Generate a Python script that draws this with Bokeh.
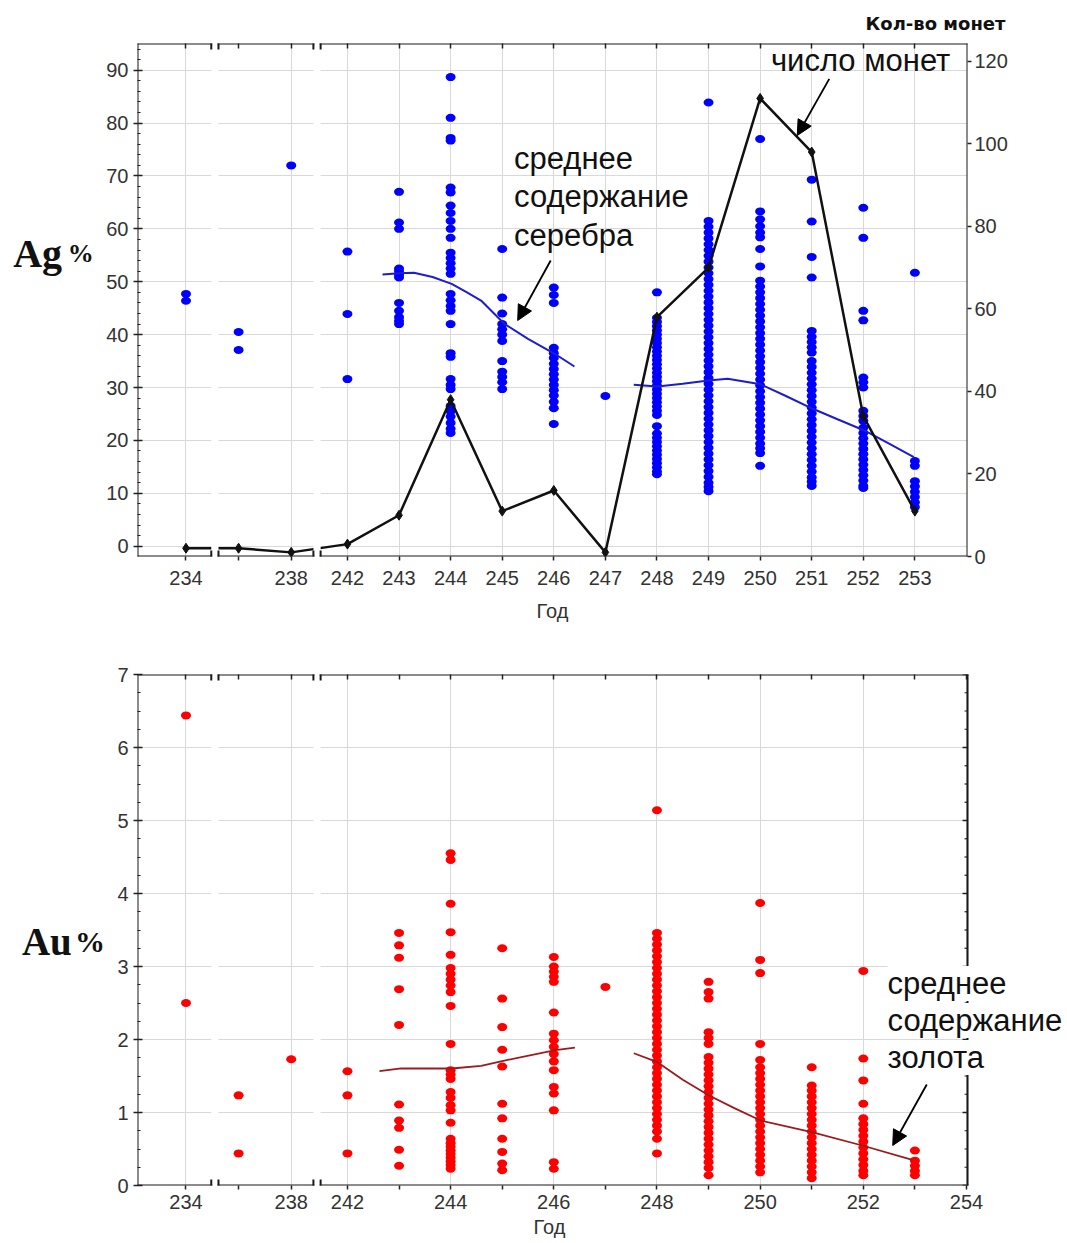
from bokeh.plotting import figure
from bokeh.models import Range1d, LinearAxis, FixedTicker, Label, Arrow, NormalHead, Title
from bokeh.embed import file_html
from bokeh.resources import INLINE

# ---------------- data ----------------
years = [234, 236, 238, 242, 243, 244, 245, 246, 247, 248, 249, 250, 251, 252, 253]

# Ag % per coin, by year
ag_234 = [47.7, 46.4]
ag_236 = [40.5, 37.1]
ag_238 = [72.0]
ag_242 = [55.7, 43.9, 31.6]
ag_243 = [67.0, 61.2, 60.0, 52.5, 52.0, 51.3, 50.8, 46.0, 44.5, 43.3, 42.6, 42.0]
ag_244 = [88.7, 81.0, 77.2, 76.7, 67.8, 66.9, 64.4, 63.0, 61.5, 60.0, 58.3, 55.5, 54.5,
          53.5, 52.5, 51.5, 47.7, 46.5, 45.4, 44.5, 42.0, 36.5, 35.8, 31.6, 30.5, 29.7,
          26.5, 25.5, 24.5, 23.3, 22.2, 21.4]
ag_245 = [56.2, 47.0, 44.0, 42.0, 41.0, 40.0, 38.8, 35.0, 33.0, 32.0, 31.0, 29.7]
ag_246 = [48.9, 47.5, 46.0, 37.5, 36.5, 35.6, 34.5, 33.5, 32.5, 31.5, 30.5, 29.5, 28.5,
          27.3, 26.1, 23.1]
ag_247 = [28.4]
ag_248 = [48.0, 43.2, 42.4, 41.6, 40.8, 40.0, 39.2, 38.4, 37.6, 36.8, 36.0, 35.2, 34.4,
          33.6, 32.8, 32.0, 31.2, 30.4, 29.6, 28.8, 28.0, 27.2, 26.4, 25.6, 24.8, 22.7,
          21.3, 20.5, 19.7, 18.9, 18.1, 17.3, 16.5, 15.7, 14.9, 14.1, 13.6]
ag_249 = [83.9, 61.5, 60.4, 59.3, 58.2, 57.1, 56.0, 54.9, 53.8, 52.7, 51.6, 50.5, 49.4,
          48.3, 47.2, 46.1, 45.0, 43.9, 42.8, 41.7, 40.6, 39.5, 38.4, 37.3, 36.2, 35.1,
          34.0, 32.9, 31.8, 30.7, 29.6, 28.5, 27.4, 26.3, 25.2, 24.1, 23.0, 21.9, 20.8,
          19.7, 18.6, 17.5, 16.4, 15.3, 14.2, 13.1, 12.0, 11.2, 10.4]
ag_250 = [77.0, 63.3, 61.8, 60.5, 59.3, 58.4, 56.2, 52.9, 50.2, 49.1, 48.0, 46.9, 45.8,
          44.7, 43.6, 42.5, 41.4, 40.3, 39.2, 38.1, 37.0, 35.9, 34.8, 33.7, 32.6, 31.5,
          30.4, 29.3, 28.2, 27.1, 26.0, 24.9, 23.8, 22.7, 21.6, 20.5, 19.4, 18.5, 17.6,
          15.2]
ag_251 = [69.3, 61.4, 54.7, 50.8, 40.7, 39.6, 38.6, 37.6, 36.6, 35.0, 33.9, 32.8, 31.7,
          30.6, 29.5, 28.4, 27.3, 26.2, 25.1, 24.0, 22.9, 21.8, 20.7, 19.6, 18.5, 17.4,
          16.3, 15.2, 14.1, 13.0, 12.2, 11.4]
ag_252 = [64.0, 58.3, 44.5, 42.7, 31.9, 31.0, 30.0, 25.6, 24.6, 23.7, 22.4, 21.4, 20.4,
          19.4, 18.4, 17.4, 16.4, 15.4, 14.4, 13.4, 12.4, 11.4, 11.0]
ag_253 = [51.7, 16.1, 15.2, 12.3, 11.3, 10.3, 9.3, 8.3, 7.4]

# Au % per coin, by year
au_234 = [6.44, 2.50]
au_236 = [1.235, 0.44]
au_238 = [1.73]
au_242 = [1.565, 1.235, 0.44]
au_243 = [3.46, 3.29, 3.12, 2.69, 2.20, 1.11, 0.89, 0.79, 0.49, 0.27]
au_244 = [4.55, 4.46, 3.86, 3.47, 3.16, 2.98, 2.90, 2.82, 2.74, 2.65, 2.46, 1.94, 1.58,
          1.52, 1.46, 1.28, 1.20, 1.10, 1.03, 0.86, 0.64, 0.58, 0.53, 0.48, 0.43, 0.38,
          0.33, 0.28, 0.23]
au_245 = [3.25, 2.56, 2.17, 1.86, 1.63, 1.12, 0.92, 0.64, 0.46, 0.30, 0.21]
au_246 = [3.13, 3.00, 2.93, 2.86, 2.79, 2.37, 2.08, 1.99, 1.90, 1.80, 1.70, 1.58, 1.35,
          1.26, 1.03, 0.32, 0.23]
au_247 = [2.72]
au_248 = [5.14, 3.46, 3.38, 3.30, 3.22, 3.14, 3.06, 2.98, 2.90, 2.82, 2.74, 2.66, 2.58,
          2.50, 2.42, 2.34, 2.26, 2.18, 2.10, 2.02, 1.94, 1.86, 1.78, 1.70, 1.62, 1.54,
          1.46, 1.38, 1.30, 1.22, 1.14, 1.06, 0.98, 0.90, 0.82, 0.74, 0.64, 0.44]
au_249 = [2.79, 2.65, 2.56, 2.10, 2.02, 1.94, 1.76, 1.68, 1.60, 1.52, 1.44, 1.36, 1.28,
          1.20, 1.12, 1.04, 0.96, 0.88, 0.80, 0.72, 0.64, 0.56, 0.48, 0.40, 0.32, 0.24,
          0.14]
au_250 = [3.87, 3.09, 2.91, 1.94, 1.72, 1.62, 1.54, 1.46, 1.38, 1.30, 1.22, 1.14, 1.06,
          0.98, 0.90, 0.82, 0.74, 0.66, 0.58, 0.50, 0.42, 0.34, 0.26, 0.18]
au_251 = [1.62, 1.37, 1.30, 1.22, 1.14, 1.06, 0.98, 0.90, 0.82, 0.74, 0.66, 0.58, 0.50,
          0.42, 0.34, 0.26, 0.18, 0.10]
au_252 = [2.94, 1.74, 1.44, 1.12, 0.92, 0.84, 0.76, 0.68, 0.60, 0.52, 0.44, 0.36, 0.28,
          0.20, 0.14]
au_253 = [0.48, 0.34, 0.27, 0.20, 0.14]

# number of coins per year (right axis of the upper chart)
coin_count = [2, 2, 1, 3, 10, 38, 11, 16, 1, 58, 70, 111, 98, 34, 11]

# smoothed mean lines
ag_mean1_year = [242.68, 243.0, 243.29, 243.65, 244.02, 244.3, 244.59, 245.04, 245.5, 246.01, 246.4]
ag_mean1_val = [51.37, 51.6, 51.69, 50.9, 49.61, 48.1, 46.45, 42.05, 39.2, 36.43, 33.98]
ag_mean2_year = [247.55, 248.01, 248.5, 249.0, 249.37, 250.01, 250.5, 251.02, 251.5, 252.02, 252.5, 252.98]
ag_mean2_val = [30.52, 30.19, 30.7, 31.33, 31.65, 30.6, 28.4, 25.98, 24.0, 21.88, 19.4, 16.83]
au_mean1_year = [242.62, 243.04, 244.02, 244.59, 245.02, 246.03, 246.41]
au_mean1_val = [1.566, 1.603, 1.603, 1.64, 1.708, 1.855, 1.89]
au_mean2_year = [247.55, 248.01, 248.5, 249.01, 249.5, 250.01, 251.0, 251.98, 252.95]
au_mean2_val = [1.812, 1.689, 1.45, 1.233, 1.06, 0.89, 0.73, 0.548, 0.352]

# ticks / tick labels
top_tick_years = [234, 236, 238, 242, 243, 244, 245, 246, 247, 248, 249, 250, 251, 252, 253]
top_label_years = [234, 238, 242, 243, 244, 245, 246, 247, 248, 249, 250, 251, 252, 253]
bot_tick_years = [234, 236, 238, 242, 243, 244, 245, 246, 247, 248, 249, 250, 251, 252, 253, 254]
bot_label_years = [234, 238, 242, 244, 246, 248, 250, 252, 254]
ag_ticks = [0, 10, 20, 30, 40, 50, 60, 70, 80, 90]
coin_ticks = [0, 20, 40, 60, 80, 100, 120]
au_ticks = [0, 1, 2, 3, 4, 5, 6, 7]

AG = dict(zip(years, [ag_234, ag_236, ag_238, ag_242, ag_243, ag_244, ag_245, ag_246,
                      ag_247, ag_248, ag_249, ag_250, ag_251, ag_252, ag_253]))
AU = dict(zip(years, [au_234, au_236, au_238, au_242, au_243, au_244, au_245, au_246,
                      au_247, au_248, au_249, au_250, au_251, au_252, au_253]))

# ---------------- broken x axis mapping ----------------
SEG_POS0, SEG_STEP = 238.87, 0.51      # compressed first part (234..238)
BREAKS = [239.43, 241.41]
HW = 0.07
X0, X1 = 237.93, 254.02
X1_EXT = 255.958                       # lower chart: frame runs to the canvas edge
FONT = "Liberation Sans"
TICKCOL = "#222222"
LABCOL = "#333333"


def xpos(y):
    if y < 240:
        return round(SEG_POS0 + (y - 234) * SEG_STEP, 4)
    return float(y)


def make_fig(height, btop, bbot, bright, xend, y0, y1):
    p = figure(width=1067, height=height, x_range=Range1d(X0, xend), y_range=Range1d(y0, y1),
               output_backend="svg", toolbar_location=None,
               min_border_left=137, min_border_right=bright,
               min_border_top=btop, min_border_bottom=bbot)
    p.outline_line_color = None
    p.background_fill_color = "white"
    p.border_fill_color = "white"
    return p


def style_axis(ax, tin, tout, standoff=5):
    ax.axis_line_color = None
    ax.major_tick_in = tin
    ax.major_tick_out = tout
    ax.major_tick_line_color = TICKCOL
    ax.major_tick_line_width = 1.5
    ax.minor_tick_line_color = TICKCOL
    ax.minor_tick_line_width = 1.2
    ax.major_label_text_font = FONT
    ax.major_label_text_font_size = "20px"
    ax.major_label_text_color = LABCOL
    ax.major_label_standoff = standoff


def setup_x(p, tick_years, label_years, standoff):
    ax = p.below[0]
    ax.ticker = FixedTicker(ticks=[xpos(y) for y in label_years],
                            minor_ticks=[xpos(y) for y in tick_years if y not in label_years])
    ax.major_label_overrides = {xpos(y): str(y) for y in label_years}
    style_axis(ax, 0, 4, standoff=standoff)
    ax.minor_tick_in = 0
    ax.minor_tick_out = 4
    ax.minor_tick_line_width = 1.5
    # ticks only on the upper edge
    top = LinearAxis(ticker=FixedTicker(ticks=[], minor_ticks=[xpos(y) for y in tick_years]))
    style_axis(top, 0, 0)
    top.minor_tick_in = 5
    top.minor_tick_out = 0
    top.minor_tick_line_width = 1.5
    p.add_layout(top, "above")
    p.xgrid.ticker = FixedTicker(ticks=[xpos(y) for y in label_years])
    p.xgrid.grid_line_color = "#d9d9d9"
    p.xgrid.grid_line_width = 1
    return ax


def setup_left(p, ticks, minors):
    ax = p.left[0]
    ax.ticker = FixedTicker(ticks=ticks, minor_ticks=minors)
    style_axis(ax, 5, 4, standoff=5)
    ax.minor_tick_in = 3
    ax.minor_tick_out = 0
    p.ygrid.ticker = FixedTicker(ticks=ticks)
    p.ygrid.grid_line_color = "#d9d9d9"
    p.ygrid.grid_line_width = 1


def draw_frame(p, y0, y1, stub):
    segs = [(X0, y0, X0, y1), (X1, y0, X1, y1)]
    edges = [X0, BREAKS[0] - HW, BREAKS[0] + HW, BREAKS[1] - HW, BREAKS[1] + HW, X1]
    for yy in (y0, y1):
        for a, b in zip(edges[0::2], edges[1::2]):
            segs.append((a, yy, b, yy))
        for bx in BREAKS:
            for s in (-HW, HW):
                segs.append((bx + s, yy - stub, bx + s, yy + stub))
    for (xa, ya, xb, yb) in segs:
        p.add_layout(Arrow(end=None, x_start=xa, y_start=ya, x_end=xb, y_end=yb,
                           line_width=2, line_color="#1a1a1a", line_cap="square"))


def white_bands(p, y0, y1):
    p.quad(left=[b - HW for b in BREAKS], right=[b + HW for b in BREAKS],
           bottom=y0 - 50, top=y1 + 50, fill_color="white", line_color=None)


def text(p, x, y, s, size="31px", font=FONT, style="normal", align="left",
         baseline="middle", bg=None, side=None):
    lab = Label(x=x, y=y, text=s, text_font=font, text_font_size=size,
                text_font_style=style, text_align=align, text_baseline=baseline,
                text_color="#111111")
    if bg is not None:
        lab.background_fill_color = bg
    if side is None:
        p.add_layout(lab)
    else:
        p.add_layout(lab, side)


def arrow(p, xs, ys, xe, ye):
    p.add_layout(Arrow(end=NormalHead(size=15, fill_color="black", line_color="black"),
                       x_start=xs, y_start=ys, x_end=xe, y_end=ye,
                       line_width=1.8, line_color="black"))


# ---------------- upper chart: Ag ----------------
AG_Y0, AG_Y1 = -1.95, 95.05
p1 = make_fig(626, 43, 70, 100, X1, AG_Y0, AG_Y1)
p1.extra_y_ranges = {"count": Range1d(0, 124.3)}
bx1 = setup_x(p1, top_tick_years, top_label_years, standoff=10)
bx1.axis_label = "Год"
bx1.axis_label_text_font = FONT
bx1.axis_label_text_font_size = "20px"
bx1.axis_label_text_font_style = "normal"
bx1.axis_label_text_color = LABCOL
bx1.axis_label_standoff = 12
setup_left(p1, ag_ticks, [v for v in range(2, 95, 2) if v % 10 != 0])
rax = LinearAxis(y_range_name="count", ticker=FixedTicker(ticks=coin_ticks))
style_axis(rax, 0, 4, standoff=3)
p1.add_layout(rax, "right")

xs, ys = [], []
for y in years:
    xs += [xpos(y)] * len(AG[y])
    ys += AG[y]
p1.ellipse(xs, ys, width=10, height=8, width_units="screen", height_units="screen",
           fill_color="#0000ff", line_color=None)
p1.line(ag_mean1_year, ag_mean1_val, line_color="#1c1cd0", line_width=2)
p1.line(ag_mean2_year, ag_mean2_val, line_color="#1c1cd0", line_width=2)
cx = [xpos(y) for y in years]
p1.line(cx, coin_count, y_range_name="count", line_color="#111111", line_width=2.5)
p1.scatter(cx, coin_count, y_range_name="count", marker="diamond", size=10,
           fill_color="#111111", line_color="#111111")
white_bands(p1, AG_Y0, AG_Y1)
draw_frame(p1, AG_Y0, AG_Y1, 0.95)

text(p1, 245.23, 73.3, "среднее")
text(p1, 245.23, 66.1, "содержание")
text(p1, 245.23, 58.7, "серебра")
text(p1, 250.21, 91.8, "число монет")
arrow(p1, 245.94, 54.02, 245.30, 42.67)
arrow(p1, 251.34, 88.37, 250.72, 77.65)
p1.add_layout(Title(text="Кол-во монет", align="right", offset=-38, standoff=19,
                    text_font="DejaVu Sans", text_font_size="18px", text_font_style="bold",
                    text_color="#111111"), "above")
text(p1, 235.52, 55.34, "Ag", size="40px", font="Liberation Serif", style="bold",
     baseline="alphabetic", side="left")
text(p1, 236.58, 55.34, "%", size="26px", font="Liberation Serif", style="bold",
     baseline="alphabetic", side="left")

# ---------------- lower chart: Au ----------------
AU_Y0, AU_Y1 = 0.0, 7.0
p2 = make_fig(617, 48, 58, 0, X1_EXT, AU_Y0, AU_Y1)
setup_x(p2, bot_tick_years, bot_label_years, standoff=5)
au_minor = [round(v * 0.25, 2) for v in range(1, 28) if v % 4 != 0]
setup_left(p2, au_ticks, au_minor)
p2.add_layout(Title(text="Год", align="left", offset=396, standoff=4,
                    text_font=FONT, text_font_size="20px", text_font_style="normal",
                    text_color=LABCOL), "below")

xs, ys = [], []
for y in years:
    xs += [xpos(y)] * len(AU[y])
    ys += AU[y]
p2.ellipse(xs, ys, width=10, height=8, width_units="screen", height_units="screen",
           fill_color="#ff0000", line_color=None)
p2.line(au_mean1_year, au_mean1_val, line_color="#9e1a1a", line_width=1.8)
p2.line(au_mean2_year, au_mean2_val, line_color="#9e1a1a", line_width=1.8)
white_bands(p2, AU_Y0, AU_Y1)
# blank area right of the drawn frame, and the inner ticks of its right edge
p2.quad(left=[X1], right=[X1_EXT + 1], bottom=[AU_Y0 - 1], top=[AU_Y1 + 1],
        fill_color="white", line_color=None)
p2.segment(x0=[X1 - 0.097] * len(au_ticks), x1=[X1] * len(au_ticks), y0=au_ticks, y1=au_ticks,
           line_color=TICKCOL, line_width=1.5)
p2.segment(x0=[X1 - 0.058] * len(au_minor), x1=[X1] * len(au_minor), y0=au_minor, y1=au_minor,
           line_color=TICKCOL, line_width=1.2)
draw_frame(p2, AU_Y0, AU_Y1, 0.068)

arrow(p2, 253.23, 1.384, 252.57, 0.548)
text(p2, 252.47, 2.767, "среднее", bg="white")
text(p2, 252.47, 2.26, "содержание", bg="white")
text(p2, 252.47, 1.753, "золота", bg="white")
text(p2, 235.69, 3.342, "Au", size="39px", font="Liberation Serif", style="bold",
     baseline="alphabetic", side="left")
text(p2, 236.72, 3.342, "%", size="30px", font="Liberation Serif", style="bold",
     baseline="alphabetic", side="left")

p = [p1, p2]
open("out.html", "w").write(file_html(p, INLINE))
